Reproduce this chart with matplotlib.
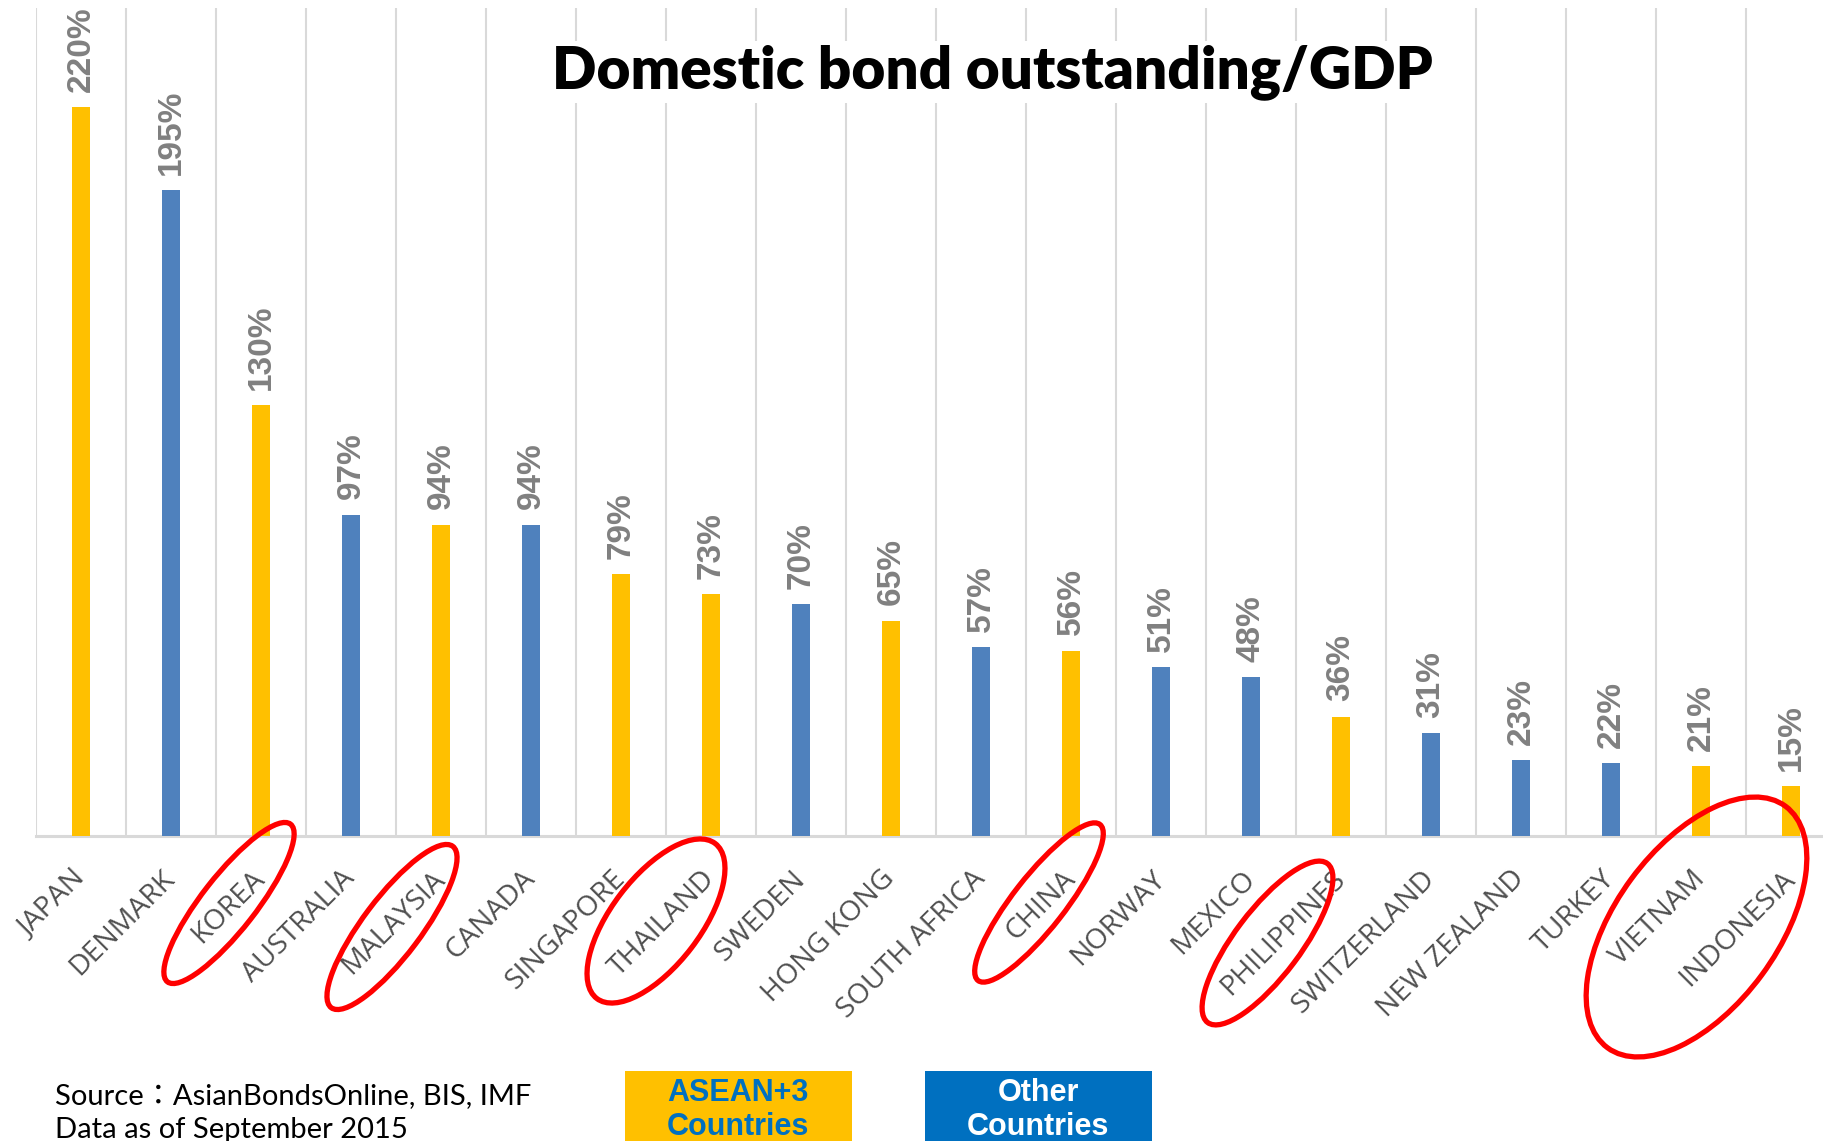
import numpy as np
import matplotlib.pyplot as plt
from matplotlib.patches import Ellipse, Rectangle
from matplotlib.transforms import ScaledTranslation

countries = ['JAPAN', 'DENMARK', 'KOREA', 'AUSTRALIA', 'MALAYSIA', 'CANADA',
             'SINGAPORE', 'THAILAND', 'SWEDEN', 'HONG KONG', 'SOUTH AFRICA',
             'CHINA', 'NORWAY', 'MEXICO', 'PHILIPPINES', 'SWITZERLAND',
             'NEW ZEALAND', 'TURKEY', 'VIETNAM', 'INDONESIA']
bond_gdp = [220, 195, 130, 97, 94, 94, 79, 73, 70, 65, 57, 56, 51, 48, 36,
            31, 23, 22, 21, 15]
asean3 = ['JAPAN', 'KOREA', 'MALAYSIA', 'SINGAPORE', 'THAILAND', 'HONG KONG',
          'CHINA', 'PHILIPPINES', 'VIETNAM', 'INDONESIA']

# highlighted labels: (category position, dx, dy below axis, width, height, angle) in inches
circled = [(2, -0.32, 0.67, 2.00, 0.54, 52),
           (4, -0.49, 0.91, 2.02, 0.58, 53),
           (7, -0.55, 0.85, 1.95, 0.89, 52.6),
           (11, -0.32, 0.665, 1.98, 0.52, 52),
           (14, -0.735, 1.07, 1.99, 0.66, 53),
           (18.5, -0.495, 0.91, 3.00, 1.62, 53.6)]

YELLOW = '#FFC000'
BLUE = '#4F81BD'
LEG_BLUE = '#0070C0'
GRID = '#D9D9D9'

fig = plt.figure(figsize=(18.24, 11.41), dpi=100)
ax = fig.add_axes([36 / 1824, 305 / 1141, 1800 / 1824, 828 / 1141])

x = np.arange(len(countries))
colors = [YELLOW if c in asean3 else BLUE for c in countries]
bars = ax.bar(x, bond_gdp, width=0.19, color=colors, zorder=3)

for b, v in zip(bars, bond_gdp):
    ax.annotate(f'{v}%', (b.get_x() + b.get_width() / 2, v),
                xytext=(0, 11), textcoords='offset points',
                rotation=90, ha='center', va='bottom',
                fontsize=24, fontweight='bold', color='#808080',
                family='Liberation Sans', annotation_clip=False)

ax.set_xlim(-0.5, len(countries) - 0.5)
ax.set_ylim(0, 250)
ax.set_xticks(x)
ax.set_xticklabels(countries, rotation=45, ha='right', va='center',
                   rotation_mode='anchor', fontsize=20.5, color='#505050',
                   family='Open Sans', fontstretch='normal')
ax.tick_params(axis='x', length=0, pad=28)
ax.set_xticks(np.arange(-0.5, len(countries)), minor=True)
ax.tick_params(axis='x', which='minor', length=0)
ax.grid(axis='x', which='minor', color=GRID, lw=1.5, zorder=0)
ax.set_yticks([])
for s in ['left', 'right', 'top']:
    ax.spines[s].set_visible(False)
ax.spines['bottom'].set_color(GRID)
ax.spines['bottom'].set_linewidth(2.2)

for pos, dx, dy, w, h, ang in circled:
    tr = fig.dpi_scale_trans + ScaledTranslation(pos, 0, ax.transData)
    ax.add_patch(Ellipse((dx, -dy), w, h, angle=ang, transform=tr,
                         fill=False, ec='#FF0000', lw=3.8, clip_on=False,
                         zorder=5))

fig.text(992 / 1824, 1 - 72 / 1141, 'Domestic bond outstanding/GDP',
         ha='center', va='center', fontsize=42, fontweight='heavy',
         family='Lato', color='black',
         bbox=dict(facecolor='white', edgecolor='none', pad=2))

fig.text(55 / 1824, 1 - 1096 / 1141, 'Source：AsianBondsOnline, BIS, IMF',
         ha='left', va='center', fontsize=21, family=['Lato', 'Noto Sans CJK JP'])
fig.text(55 / 1824, 1 - 1130 / 1141, 'Data as of September 2015',
         ha='left', va='center', fontsize=21, family='Lato')

# legend boxes
for x0, face, tcol, label in [(625, YELLOW, LEG_BLUE, 'ASEAN+3\nCountries'),
                              (925, LEG_BLUE, 'white', 'Other\nCountries')]:
    fig.patches.append(Rectangle((x0 / 1824, 0), 227 / 1824, 70 / 1141,
                                 transform=fig.transFigure, facecolor=face,
                                 edgecolor='none'))
    fig.text((x0 + 113) / 1824, 1 - 1110 / 1141, label, ha='center',
             va='center', fontsize=22, fontweight='bold', color=tcol,
             family=['Liberation Sans Narrow', 'Liberation Sans'],
             linespacing=1.15)

fig.savefig('out.png', dpi=100)
